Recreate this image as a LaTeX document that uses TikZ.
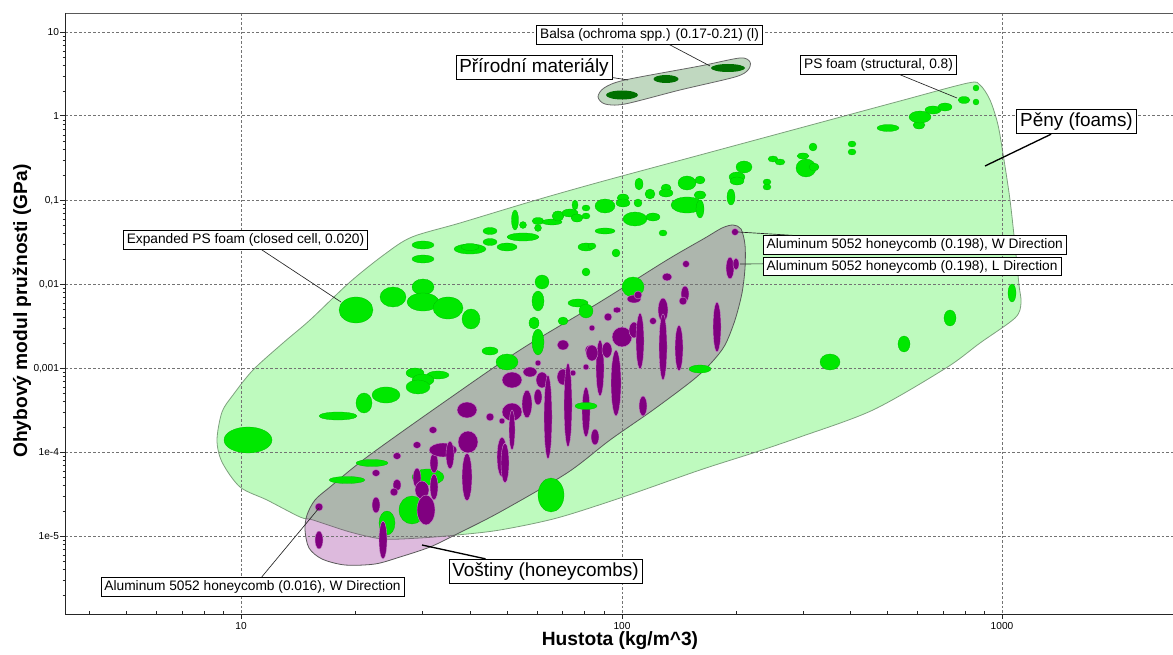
\documentclass[tikz,border=0pt]{standalone}
\usepackage{fontspec}
\setmainfont{Liberation Sans}
\definecolor{foamfill}{RGB}{190,250,190}
\definecolor{foamedge}{RGB}{125,160,125}
\definecolor{foamgreen}{RGB}{0,232,0}
\definecolor{combpurple}{RGB}{128,0,128}
\definecolor{natfill}{RGB}{192,216,192}
\definecolor{natgreen}{RGB}{0,112,0}

\begin{document}
\begin{tikzpicture}[x=0.75pt, y=-0.75pt,
gridline/.style={draw=black!55, dash pattern=on 2pt off 1.5pt, line width=0.45pt},
axisline/.style={draw=black!85, line width=0.6pt},
foamenv/.style={fill=foamfill, draw=foamedge, line width=0.6pt},
combenv/.style={fill=combpurple, fill opacity=0.27, draw=gray!70!black, line width=0.6pt},
natenv/.style={fill=natfill, draw=gray!80!black, line width=0.6pt},
foampt/.style={fill=foamgreen, draw=foamgreen!80!black, line width=0.2pt},
combpt/.style={fill=combpurple, draw=combpurple!45!white, line width=0.3pt},
natpt/.style={fill=natgreen},
callout/.style={draw, fill=white, line width=0.5pt, inner xsep=2.5pt, inner ysep=2.2pt, font=\fontsize{10.3}{12}\selectfont},
bigbox/.style={draw, fill=white, line width=0.7pt, inner xsep=2.5pt, inner ysep=2.5pt, font=\fontsize{14.2}{17}\selectfont},
leader/.style={draw=black!85, line width=0.5pt},
bigleader/.style={draw=black, line width=1pt},
ticklab/.style={font=\fontsize{7.6}{9}\selectfont, inner sep=1pt},
axtitle/.style={font=\bfseries\fontsize{14.4}{17}\selectfont}
]
\useasboundingbox (0,0) rectangle (1173,655);

\draw[foamenv] plot[smooth cycle, tension=0.5] coordinates {
(217,440) (222,412) (233,395) (253,370) (283,343) (310,320) (350,282) (385,254)
(412,237) (460,223) (533,201) (600,182) (700,155) (800,128) (900,101) (968,83)
(980,85) (990,100) (998,125) (1004,160) (1010,200) (1015,245) (1019,285) (1021,303)
(1015,318) (980,343) (946,368) (873,410) (800,437) (753,453) (700,470) (623,497)
(557,518) (500,530) (457,535) (420,538) (383,539) (350,532) (313,520) (300,517)
(267,500) (240,487) (222,462)};
\draw[combenv] plot[smooth cycle, tension=0.5] coordinates {
(733,225) (741,229) (745,245) (745,268) (742,293) (735,320) (725,345) (712,362)
(693,380) (653,410) (610,440) (567,473) (500,512) (457,534) (430,547) (400,557)
(375,564) (345,565) (322,559) (309,548) (305,530) (307,515) (315,500) (330,487)
(367,457) (440,405) (520,350) (600,302) (667,260) (705,238) (722,228)};
\draw[natenv] plot[smooth cycle, tension=0.5] coordinates {
(598,97) (604,88) (625,80) (700,66) (740,58) (750,62) (748,70) (735,77)
(680,90) (625,104) (605,104)};

\foreach \gx in {241,622,1002}
  \draw[gridline] (\gx,13) -- (\gx,614);
\foreach \gy in {32.3,115.7,200.3,284.3,368.3,452,536.3}
  \draw[gridline] (65,\gy) -- (1173,\gy);

\foreach \px/\py/\rx/\ry in {515/220/3.5/10, 523/225/3.5/3.5, 538/221/6/3.5, 538/228/3.5/3.5,
  552/222/10/3, 558/216/6/5, 575/205/3/5, 570/213/8/4, 577/218/6/4, 586/208/4/3, 586/216/4/3,
  490/231/7/3.5, 490/242/7/3.5, 523/237/16/4, 507/247/10/4, 470/249/16/5, 470/247/9/3.5,
  423/245/11/4, 423/259/11/4, 586/247/8/4, 586/272/4/4, 423/287/11/8, 393/297/13/10,
  423/302/16/9, 448/308/15/11, 356/310/17/13, 471/319/9/10, 542/282/7/7, 538/301/6/10,
  534/323/5/6, 538/342/6/13, 563/321/5/4, 578/303/10/4, 586/311/7/7, 639/184/4/6,
  650/194/5/5, 666/188/5/4, 666/193/7/4, 687/183/9/7, 700/180/5/4, 700/195/6/4,
  687/205/16/8, 700/209/4/9, 731/197/4/8, 737/177/8/5, 744/167/8/6, 737/181/7/4,
  767/182/4/3, 767/187/4/3, 773/159/5/3, 780/162/5/3, 803/156/6/3, 806/168/10/9,
  814/167/5/4, 813/147/4/4, 605/206/10/7, 623/198/6/4, 623/203/7/4, 638/203/4/4,
  635/219/12/7, 653/217/7/4, 605/231/10/3, 663/233/4/3, 592/246/4/3, 616/253/4/4,
  633/287/11/10, 852/144/4/3, 852/152/4/3, 888/128/11/3.5, 919/125/6/4, 920/117/11/6,
  933/110/8/4, 945/107/7/4, 964/100/6/3.5, 976/88/3/3, 976/102/3/3, 1012/293/4/9,
  950/318/6/8, 904/344/6/8, 830/362/10/8, 248/440/24/13, 338/416/19/4, 364/403/8/10,
  386/395/14/8, 372/463/16/3.5, 347/480/18/3.5, 490/351/8/4, 507/362/11/8, 415/373/9/5,
  438/375/11/4, 423/380/11/6, 418/387/12/7, 428/477/16/8, 412/510/13/14, 387/523/8/12,
  551/495/13/17}
  \filldraw[foampt] (\px,\py) ellipse [x radius=\rx, y radius=\ry];

\foreach \px/\py/\rx/\ry in {319/507/4/4, 319/540/4/9, 376/473/4/3.5, 376/505/4/8,
  383/540/4/19, 397/456/4/3.5, 397/485/4/6, 394/492/4/4, 417/445/4/3.5, 433/430/4/3.5,
  417/478/4/10, 434/463/4/10, 434/487/4/13, 422/490/7/9, 426/510/9/15, 443/450/14/7,
  450/455/4/14, 467/477/5/24, 468/442/10/11, 467/410/10/8, 490/417/4/4, 502/421/3/3,
  502/457/5/20, 505/463/4/20, 512/412/10/9, 512/430/3/20, 527/404/5/14, 512/380/10/8,
  530/372/7/5, 542/380/6/8, 538/397/4/8, 548/417/4/42, 563/377/6/8, 568/405/4/42,
  573/373/3/3, 538/363/3/3, 563/345/6/5, 586/412/4/25, 595/437/4/8, 586/367/3/3,
  590/350/5/5, 592/328/3/3, 608/317/4/4, 617/310/4/3, 600/368/4/28, 607/350/5/8,
  592/353/6/8, 616/383/5/33, 622/337/10/10, 634/330/5/8, 634/299/7/4, 638/295/4/4,
  640/341/4/28, 653/321/3.5/3.5, 663/310/5/12, 663/347/4/33, 679/348/4/23, 643/406/4/10,
  667/277/5/4, 685/294/4/8, 683/301/4/4, 686/264/3.5/3.5, 717/327/4/25, 730/268/4/11,
  736/264/3/6, 735/232/3.5/3.5}
  \filldraw[combpt] (\px,\py) ellipse [x radius=\rx, y radius=\ry];

\foreach \px/\py/\rx/\ry in {586/406/11/3.5, 700/369/11/4}
  \filldraw[foampt] (\px,\py) ellipse [x radius=\rx, y radius=\ry];
\foreach \px/\py/\rx/\ry in {622/95/16/4.5, 666/79/12.5/4, 728/68/17/4}
  \fill[natpt] (\px,\py) ellipse [x radius=\rx, y radius=\ry];

\draw[axisline, draw=gray!70!black] (65,13) -- (1173,13);
\draw[axisline] (65,13) -- (65,614) -- (1173,614);
\foreach \k in {0,1,2}
  \foreach \d in {2,...,9} {
    \pgfmathsetmacro\tx{241+380.5*(\k-1+ln(\d)/ln(10))}
    \ifdim\tx pt>66pt \ifdim\tx pt<1172pt \draw[axisline] (\tx,614) -- (\tx,611); \fi\fi
  }
\foreach \k in {0,...,6}
  \foreach \d in {2,...,9} {
    \pgfmathsetmacro\ty{32.3+84*(1+\k-ln(\d)/ln(10))}
    \draw[axisline] (62.5,\ty) -- (65,\ty);
  }
\foreach \gx/\lab in {241/10,622/100,1002/1000} {
  \draw[axisline] (\gx,614) -- (\gx,619);
  \node[ticklab] (xt\lab) at (\gx,626) {\lab};
}
\foreach \gy/\lab [count=\i] in {32.3/10, 115.7/1, 200.3/{0,1}, 284.3/{0,01}, 368.3/{0,001}, 452/1e-4, 536.3/1e-5} {
  \draw[axisline] (60,\gy) -- (65,\gy);
  \node[ticklab, anchor=east] (yt\i) at (60.5,\gy) {\lab};
}
\node[axtitle] (xtitle) at (620,641) {Hustota (kg/m\textasciicircum 3)};
\node[axtitle, rotate=90] (ytitle) at (22,311) {Ohybový modul pružnosti (GPa)};

\coordinate (balsapt) at (710,66);
\coordinate (prirpt) at (628,80);
\coordinate (pspt) at (957,98);
\coordinate (penypt) at (985,166);
\coordinate (exppt) at (341,302);
\coordinate (w198pt) at (738,232);
\coordinate (l198pt) at (740,264);
\coordinate (w016pt) at (319,508);
\coordinate (vostpt) at (422,545);

\node[callout] (balsa) at (649.5,35) {Balsa (ochroma spp.) (0.17-0.21) (l)};
\node[bigbox] (prir) at (534,67.5) {Přírodní materiály};
\node[callout] (psfoam) at (878.5,65) {PS foam (structural, 0.8)};
\node[bigbox] (peny) at (1076.5,121.5) {Pěny (foams)};
\node[callout] (expps) at (245.5,240) {Expanded PS foam (closed cell, 0.020)};
\node[callout, anchor=west] (w198) at (763,245) {Aluminum 5052 honeycomb (0.198), W Direction};
\node[callout, anchor=west] (l198) at (763,266.5) {Aluminum 5052 honeycomb (0.198), L Direction};
\node[callout] (w016) at (252.5,586.5) {Aluminum 5052 honeycomb (0.016), W Direction};
\node[bigbox] (vost) at (545.5,571.5) {Voštiny (honeycombs)};

\draw[leader] ([xshift=15pt]balsa.south) -- (balsapt);
\draw[leader] ([yshift=2pt]prir.south east) -- (prirpt);
\draw[leader] ([xshift=16pt]psfoam.south) -- (pspt);
\draw[bigleader] ([xshift=-19pt]peny.south) -- (penypt);
\draw[leader] ([xshift=12pt]expps.south) -- (exppt);
\draw[leader] ([xshift=22pt]w198.north west) -- (w198pt);
\draw[leader] ([yshift=2pt]l198.west) -- (l198pt);
\draw[leader] ([xshift=7pt]w016.north) -- (w016pt);
\draw[bigleader] ([xshift=-45pt]vost.north) -- (vostpt);
\end{tikzpicture}
\end{document}
